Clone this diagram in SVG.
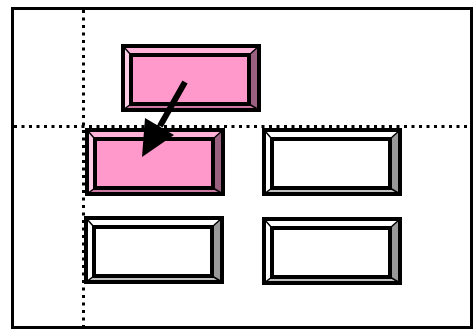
<svg xmlns="http://www.w3.org/2000/svg" width="473" height="332" viewBox="0 0 473 332">
  <style>
    .frame { fill: #ffffff; stroke: #000000; stroke-width: 3; }
    .dot { fill: none; stroke: #000000; stroke-width: 3; stroke-dasharray: 3 4.5; }
    .edge { fill: none; stroke: #000000; stroke-width: 4; stroke-linejoin: miter; }
    .diag { fill: none; stroke: #000000; stroke-width: 1.5; }
    .p-main { fill: #FF99CC; }
    .p-top { fill: #FFB3D9; }
    .p-left { fill: #FFCCE6; }
    .p-right { fill: #996080; }
    .p-bottom { fill: #CC7AA3; }
    .w-main { fill: #FFFFFF; }
    .w-top { fill: #FFFFFF; }
    .w-left { fill: #FFFFFF; }
    .w-right { fill: #999999; }
    .w-bottom { fill: #C0C0C0; }
    .arrow-line { fill: none; stroke: #000000; stroke-width: 6; }
    .arrow-head { fill: #000000; }
  </style>
  <defs>
    <g id="bevel-pink">
      <rect class="p-main" x="10" y="11" width="118" height="49"/>
      <polygon class="p-top" points="2,2 138,2 128,11 10,11"/>
      <polygon class="p-left" points="2,2 10,11 10,60 2,66"/>
      <polygon class="p-right" points="138,2 138,66 128,60 128,11"/>
      <polygon class="p-bottom" points="2,66 10,60 128,60 138,66"/>
      <line class="diag" x1="2" y1="2" x2="10" y2="11"/>
      <line class="diag" x1="138" y1="2" x2="128" y2="11"/>
      <line class="diag" x1="2" y1="66" x2="10" y2="60"/>
      <line class="diag" x1="138" y1="66" x2="128" y2="60"/>
      <rect class="edge" x="10" y="11" width="118" height="49"/>
      <rect class="edge" x="2" y="2" width="136" height="64"/>
    </g>
    <g id="bevel-white">
      <rect class="w-main" x="10" y="11" width="118" height="49"/>
      <polygon class="w-top" points="2,2 138,2 128,11 10,11"/>
      <polygon class="w-left" points="2,2 10,11 10,60 2,66"/>
      <polygon class="w-right" points="138,2 138,66 128,60 128,11"/>
      <polygon class="w-bottom" points="2,66 10,60 128,60 138,66"/>
      <line class="diag" x1="2" y1="2" x2="10" y2="11"/>
      <line class="diag" x1="138" y1="2" x2="128" y2="11"/>
      <line class="diag" x1="2" y1="66" x2="10" y2="60"/>
      <line class="diag" x1="138" y1="66" x2="128" y2="60"/>
      <rect class="edge" x="10" y="11" width="118" height="49"/>
      <rect class="edge" x="2" y="2" width="136" height="64"/>
    </g>
  </defs>

  <rect x="0" y="0" width="473" height="332" fill="#ffffff"/>
  <rect class="frame" x="12.5" y="8.5" width="459" height="319"/>

  <g id="guides">
    <line class="dot" x1="83.5" y1="10" x2="83.5" y2="326"/>
    <line class="dot" x1="14" y1="126.5" x2="471" y2="126.5"/>
  </g>

  <g id="node-top" transform="translate(121,44)"><use href="#bevel-pink"/></g>
  <g id="node-mid-left" transform="translate(85,128)"><use href="#bevel-pink"/></g>
  <g id="node-mid-right" transform="translate(262,128)"><use href="#bevel-white"/></g>
  <g id="node-bottom-left" transform="translate(84,216)"><use href="#bevel-white"/></g>
  <g id="node-bottom-right" transform="translate(262,217)"><use href="#bevel-white"/></g>

  <g id="connectors">
    <line class="arrow-line" x1="185" y1="82" x2="160" y2="126"/>
    <polygon class="arrow-head" points="142,157 174,135 145,118"/>
  </g>
</svg>
